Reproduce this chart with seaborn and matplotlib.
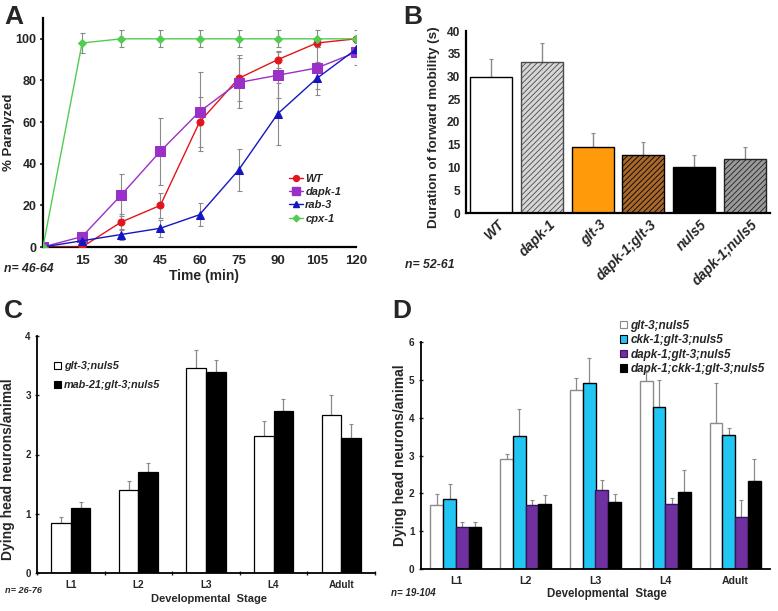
import numpy as np
import pandas as pd
import matplotlib
matplotlib.use("Agg")
import matplotlib.pyplot as plt
import matplotlib.transforms as mtransforms
import seaborn as sns
from matplotlib.lines import Line2D
from matplotlib.patches import Patch

# ---------------- data ----------------
# Panel A
time_min = [0, 15, 30, 45, 60, 75, 90, 105, 120]
wt_pct = [0, 0, 12, 20, 60, 81, 90, 98, 100]
wt_err = [0, 0, 4, 6, 12, 11, 4, 2, 0]
dapk_pct = [0, 5, 25, 46, 65, 79, 82.5, 86, 93.5]
dapk_err = [0, 2, 10, 16, 19, 12, 11, 10, 6]
rab_pct = [0, 3, 6, 9, 15.5, 37, 64, 81, 95]
rab_err = [0, 1, 2.5, 4, 5.5, 10, 15, 8, 3]
cpx_pct = [0, 98, 100, 100, 100, 100, 100, 100, 100]
cpx_err = [0, 5, 4, 4, 4, 4, 4, 4, 4]
a_strains = ["WT", "dapk-1", "rab-3", "cpx-1"]

# Panel B
b_strains = ["WT", "dapk-1", "glt-3", "dapk-1;glt-3", "nuls5", "dapk-1;nuls5"]
mobility = [30.0, 33.1, 14.6, 12.8, 10.2, 11.9]
mobility_err = [3.9, 4.3, 2.9, 2.7, 2.5, 2.6]

# Panel C
stages = ["L1", "L2", "L3", "L4", "Adult"]
c_strains = ["glt-3;nuls5", "mab-21;glt-3;nuls5"]
c_glt = [0.85, 1.40, 3.46, 2.31, 2.66]
c_glt_err = [0.10, 0.15, 0.30, 0.25, 0.34]
c_mab = [1.09, 1.70, 3.40, 2.74, 2.28]
c_mab_err = [0.11, 0.15, 0.20, 0.20, 0.24]

# Panel D
d_strains = ["glt-3;nuls5", "ckk-1;glt-3;nuls5", "dapk-1;glt-3;nuls5",
             "dapk-1;ckk-1;glt-3;nuls5"]
d_glt = [1.69, 2.90, 4.73, 4.96, 3.87]
d_glt_err = [0.28, 0.14, 0.33, 0.24, 1.05]
d_ckk = [1.84, 3.51, 4.91, 4.28, 3.55]
d_ckk_err = [0.40, 0.72, 0.68, 0.72, 0.18]
d_dapk = [1.12, 1.70, 2.08, 1.73, 1.37]
d_dapk_err = [0.13, 0.12, 0.27, 0.15, 0.46]
d_both = [1.12, 1.72, 1.76, 2.03, 2.33]
d_both_err = [0.12, 0.24, 0.23, 0.58, 0.58]

# ---------------- style ----------------
sns.set_theme(style="ticks")
plt.rcParams["font.family"] = ["Liberation Sans", "DejaVu Sans"]
plt.rcParams["font.weight"] = "bold"
plt.rcParams["axes.labelweight"] = "bold"
plt.rcParams["hatch.linewidth"] = 0.6

W, H = 778, 611
fig = plt.figure(figsize=(W / 100, H / 100), dpi=100)


def axes_px(left, top, right, bottom):
    return fig.add_axes([left / W, 1 - bottom / H, (right - left) / W, (bottom - top) / H])


def ftext(x, y, s, **kw):
    fig.text(x / W, 1 - y / H, s, **kw)


ERR = "#8a8a8a"

# ================= Panel A =================
axA = axes_px(43, 18, 356, 247)
a_vals = [wt_pct, dapk_pct, rab_pct, cpx_pct]
a_errs = [wt_err, dapk_err, rab_err, cpx_err]
a_colors = ["#e3141c", "#9a30c8", "#1616c0", "#52cc52"]
a_markers = ["o", "s", "^", "D"]
a_msize = [5, 6.5, 5.5, 4]
for v, e in zip(a_vals, a_errs):
    axA.errorbar(time_min, v, yerr=e, fmt="none", ecolor=ERR, elinewidth=0.8,
                 capsize=1.8, capthick=0.8, zorder=1)
for v, c, m, ms in zip(a_vals, a_colors, a_markers, a_msize):
    sns.lineplot(x=time_min, y=v, ax=axA, color=c, marker=m, markersize=ms,
                 markeredgecolor=c, linewidth=1.0, zorder=3)
axA.set_xlim(0, 120)
axA.set_ylim(0, 110)
axA.set_xticks(time_min[1:])
axA.set_yticks([0, 20, 40, 60, 80, 100])
axA.tick_params(axis="x", length=0, labelsize=9.5, pad=6)
axA.tick_params(axis="y", length=2.5, width=1.2, labelsize=9, pad=2)
for lab in axA.get_xticklabels() + axA.get_yticklabels():
    lab.set_fontweight("bold")
sns.despine(ax=axA)
for sp in ["left", "bottom"]:
    axA.spines[sp].set_linewidth(1.6)
    axA.spines[sp].set_color("black")
axA.set_xlabel("Time (min)", fontsize=10)
axA.xaxis.set_label_coords(0.515, -0.098)
axA.set_ylabel("% Paralyzed", fontsize=9.5)
axA.yaxis.set_label_coords(-0.088, 0.5)
a_handles = [Line2D([0], [0], color=c, marker=m, markersize=ms * 0.85, markeredgecolor=c, lw=1.0)
             for c, m, ms in zip(a_colors, a_markers, a_msize)]
axA.legend(a_handles, a_strains, loc="upper left", bbox_to_anchor=(283 / W, 1 - 168 / H),
           bbox_transform=fig.transFigure, frameon=False, borderpad=0, handlelength=1.3,
           handletextpad=0.2, labelspacing=0.3,
           prop={"size": 8, "weight": "bold", "style": "italic"})
ftext(4, 24, "A", fontsize=19, fontweight="bold", va="baseline")
ftext(4, 272, "n= 46-64", fontsize=8.8, fontweight="bold", fontstyle="italic", va="baseline")

# ================= Panel B =================
axB = axes_px(466, 31, 770, 213)
b_face = ["white", "#d6d6d6", "#ff9a0a", "#a8682c", "black", "#9a9a9a"]
b_edge = ["black", "#4a4a4a", "black", "black", "black", "#222222"]
b_hatch = [None, "//////", None, "//////", None, "//////"]
sns.barplot(x=b_strains, y=mobility, hue=b_strains, palette=b_face, legend=False,
            ax=axB, width=0.83, errorbar=None, linewidth=1.0, saturation=1)
for p, ec, h in zip(axB.patches, b_edge, b_hatch):
    p.set_edgecolor(ec)
    if h:
        p.set_hatch(h)
axB.errorbar(np.arange(len(b_strains)), mobility,
             yerr=[np.zeros(len(mobility)), mobility_err], fmt="none",
             ecolor=ERR, elinewidth=1.0, capsize=1.5, capthick=0.8, zorder=0)
axB.set_xlim(-0.5, 5.5)
axB.set_ylim(0, 40)
axB.set_yticks(range(0, 41, 5))
axB.tick_params(axis="x", length=0, labelsize=10, pad=6)
axB.tick_params(axis="y", length=0, labelsize=8.6, pad=4)
shift = mtransforms.ScaledTranslation(6 / 100, 4 / 100, fig.dpi_scale_trans)
for lab in axB.get_xticklabels():
    lab.set_rotation(45)
    lab.set_ha("right")
    lab.set_rotation_mode("anchor")
    lab.set_fontstyle("italic")
    lab.set_fontweight("bold")
    lab.set_transform(lab.get_transform() + shift)
for lab in axB.get_yticklabels():
    lab.set_fontweight("bold")
sns.despine(ax=axB)
for sp in ["left", "bottom"]:
    axB.spines[sp].set_linewidth(1.6)
    axB.spines[sp].set_color("black")
axB.set_ylabel("Duration of forward mobility (s)", fontsize=9.7)
axB.yaxis.set_label_coords(-0.085, 0.47)
ftext(403, 24, "B", fontsize=19, fontweight="bold", va="baseline")
ftext(405, 268, "n= 52-61", fontsize=8.8, fontweight="bold", fontstyle="italic", va="baseline")

# ================= Panel C =================
axC = axes_px(37, 336, 375, 573)
dfc = pd.DataFrame({
    "stage": stages * 2,
    "strain": [c_strains[0]] * 5 + [c_strains[1]] * 5,
    "value": c_glt + c_mab,
})
sns.barplot(data=dfc, x="stage", y="value", hue="strain", palette=["white", "black"],
            ax=axC, width=0.58, errorbar=None, edgecolor="black", linewidth=0.9,
            saturation=1, legend=False)
for cont, errs in zip(axC.containers, [c_glt_err, c_mab_err]):
    xs = [b.get_x() + b.get_width() / 2 for b in cont]
    ys = [b.get_height() for b in cont]
    axC.errorbar(xs, ys, yerr=[np.zeros(len(errs)), errs], fmt="none", ecolor=ERR,
                 elinewidth=0.9, capsize=1.2, capthick=0.8, zorder=0)
axC.set_xlim(-0.5, 4.5)
axC.set_ylim(0, 4)
axC.set_yticks(range(0, 5))
axC.set_xticks(np.arange(-0.5, 5, 1), minor=True)
axC.tick_params(axis="x", which="major", length=0, labelsize=7.2, pad=5)
axC.tick_params(axis="x", which="minor", length=3, width=1, direction="inout")
axC.tick_params(axis="y", length=3, width=1, direction="inout", labelsize=7, pad=3)
for lab in axC.get_xticklabels() + axC.get_yticklabels():
    lab.set_fontweight("bold")
sns.despine(ax=axC)
for sp in ["left", "bottom"]:
    axC.spines[sp].set_linewidth(1.3)
    axC.spines[sp].set_color("black")
axC.set_xlabel("Developmental  Stage", fontsize=8)
axC.xaxis.set_label_coords(0.51, -0.088)
axC.set_ylabel("Dying head neurons/animal", fontsize=10)
axC.yaxis.set_label_coords(-0.066, 0.44)
c_handles = [Patch(facecolor=f, edgecolor="black", linewidth=0.8) for f in ["white", "black"]]
axC.legend(c_handles, c_strains, loc="upper left", bbox_to_anchor=(49 / W, 1 - 356 / H),
           bbox_transform=fig.transFigure, frameon=False, borderpad=0, handlelength=0.6,
           handleheight=0.6, handletextpad=0.3, labelspacing=0.8,
           prop={"size": 7.8, "weight": "bold", "style": "italic"})
ftext(4, 318, "C", fontsize=19, fontweight="bold", va="baseline")
ftext(5, 593, "n= 26-76", fontsize=6.6, fontweight="bold", fontstyle="italic", va="baseline")

# ================= Panel D =================
axD = axes_px(421, 342, 770, 569)
dfd = pd.DataFrame({
    "stage": stages * 4,
    "strain": sum([[s] * 5 for s in d_strains], []),
    "value": d_glt + d_ckk + d_dapk + d_both,
})
d_face = ["white", "#22c6f2", "#7030a0", "black"]
d_edge = ["#8c8c8c", "black", "#3a1460", "black"]
sns.barplot(data=dfd, x="stage", y="value", hue="strain", palette=d_face,
            ax=axD, width=0.73, errorbar=None, linewidth=1.0,
            saturation=1, legend=False)
for cont, ec, errs in zip(axD.containers, d_edge,
                          [d_glt_err, d_ckk_err, d_dapk_err, d_both_err]):
    for b in cont:
        b.set_edgecolor(ec)
    xs = [b.get_x() + b.get_width() / 2 for b in cont]
    ys = [b.get_height() for b in cont]
    axD.errorbar(xs, ys, yerr=[np.zeros(len(errs)), errs], fmt="none", ecolor=ERR,
                 elinewidth=0.9, capsize=1.2, capthick=0.8, zorder=0)
axD.set_xlim(-0.5, 4.5)
axD.set_ylim(0, 6)
axD.set_yticks(range(0, 7))
axD.tick_params(axis="x", length=0, labelsize=7.6, pad=5)
axD.tick_params(axis="y", length=3, width=1, direction="inout", labelsize=7.2, pad=3)
for lab in axD.get_xticklabels() + axD.get_yticklabels():
    lab.set_fontweight("bold")
sns.despine(ax=axD)
for sp in ["left", "bottom"]:
    axD.spines[sp].set_linewidth(1.3)
    axD.spines[sp].set_color("black")
axD.set_xlabel("Developmental  Stage", fontsize=8.3)
axD.xaxis.set_label_coords(0.533, -0.085)
axD.set_ylabel("Dying head neurons/animal", fontsize=10)
axD.yaxis.set_label_coords(-0.04, 0.5)
d_handles = [Patch(facecolor=f, edgecolor=e, linewidth=0.8) for f, e in zip(d_face, d_edge)]
axD.legend(d_handles, d_strains, loc="upper left", bbox_to_anchor=(614 / W, 1 - 314 / H),
           bbox_transform=fig.transFigure, frameon=False, borderpad=0, handlelength=0.6,
           handleheight=0.6, handletextpad=0.3, labelspacing=0.2,
           prop={"size": 8.5, "weight": "bold", "style": "italic"})
ftext(392, 318, "D", fontsize=19, fontweight="bold", va="baseline")
ftext(391, 596, "n= 19-104", fontsize=7, fontweight="bold", fontstyle="italic", va="baseline")

fig.savefig("out.png", dpi=100)
